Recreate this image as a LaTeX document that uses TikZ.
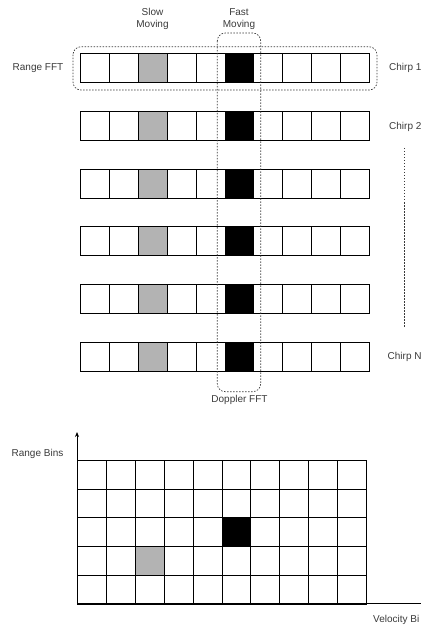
\documentclass[tikz,border=0pt]{standalone}
\usepackage{fontspec}
\setmainfont{Liberation Sans}
\usetikzlibrary{arrows.meta}
\definecolor{txt}{HTML}{3A3A3A}
\definecolor{graycell}{HTML}{B3B3B3}
\begin{document}
\begin{tikzpicture}[x=1pt,y=-1pt,
  cell/.style={draw=black,line width=0.8pt,minimum width=28.9pt,minimum height=29pt,inner sep=0pt,anchor=north west,fill=white},
  gcell/.style={cell,minimum height=28.7pt},
  lbl/.style={font=\fontsize{10}{12}\selectfont,text=txt,inner sep=0pt},
  dbox/.style={draw=txt,line width=0.7pt,dash pattern=on 1.5pt off 1.5pt,rounded corners=8pt},
  dotline/.style={draw=txt,line width=0.7pt,dash pattern=on 1.5pt off 1.5pt}]
\useasboundingbox (0,0) rectangle (421,628);
% chirp rows
\foreach \r in {0,...,5}{
  \foreach \c in {0,...,9}{
    \pgfmathsetmacro{\xx}{80+28.9*\c}
    \pgfmathsetmacro{\yy}{53.3+57.7*\r}
    \ifnum\c=2
      \node[cell,fill=graycell] (r\r c\c) at (\xx,\yy) {};
    \else\ifnum\c=5
      \node[cell,fill=black] (r\r c\c) at (\xx,\yy) {};
    \else
      \node[cell] (r\r c\c) at (\xx,\yy) {};
    \fi\fi
  }
}
% dashed boxes
\draw[dbox] (73,46.7) rectangle (377,90);
\draw[dbox] (217.3,33) rectangle (260.7,391.7);
% labels
\node[lbl,align=center] (slow) at (152.5,19) {Slow\\Moving};
\node[lbl,align=center] (fast) at (239,19) {Fast\\Moving};
\node[lbl,anchor=west] (rfft) at (12.5,68) {Range FFT};
\node[lbl,anchor=west] (ch1) at (389,68) {Chirp 1};
\node[lbl,anchor=west] (ch2) at (389,126.5) {Chirp 2};
\node[lbl,anchor=west] (chn) at (387.5,357) {Chirp N};
\node[lbl] (dfft) at (239.5,400) {Doppler FFT};
\coordinate (d1) at (404,148);
\coordinate (d2) at (404,328);
\draw[dotline] (d1) -- (d2);
% bottom grid
\foreach \r in {0,...,4}{
  \foreach \c in {0,...,9}{
    \pgfmathsetmacro{\xx}{77+28.9*\c}
    \pgfmathsetmacro{\yy}{460+28.7*\r}
    \ifnum\c=5 \ifnum\r=2
      \node[gcell,fill=black] (g\r c\c) at (\xx,\yy) {};
    \else
      \node[gcell] (g\r c\c) at (\xx,\yy) {};
    \fi
    \else\ifnum\c=2 \ifnum\r=3
      \node[gcell,fill=graycell] (g\r c\c) at (\xx,\yy) {};
    \else
      \node[gcell] (g\r c\c) at (\xx,\yy) {};
    \fi
    \else
      \node[gcell] (g\r c\c) at (\xx,\yy) {};
    \fi\fi
  }
}
\coordinate (origin) at (77,603.5);
\coordinate (ytop) at (77,432);
\coordinate (xend) at (421,603.5);
\draw[line width=0.8pt,-{Stealth[length=5pt,width=4pt]}] (origin) -- (ytop);
\draw[line width=0.8pt] (origin) -- (xend);
\node[lbl] (rbins) at (37.5,453.5) {Range Bins};
\node[lbl,anchor=west] (vbins) at (373,620) {Velocity Bi};
\end{tikzpicture}
\end{document}
